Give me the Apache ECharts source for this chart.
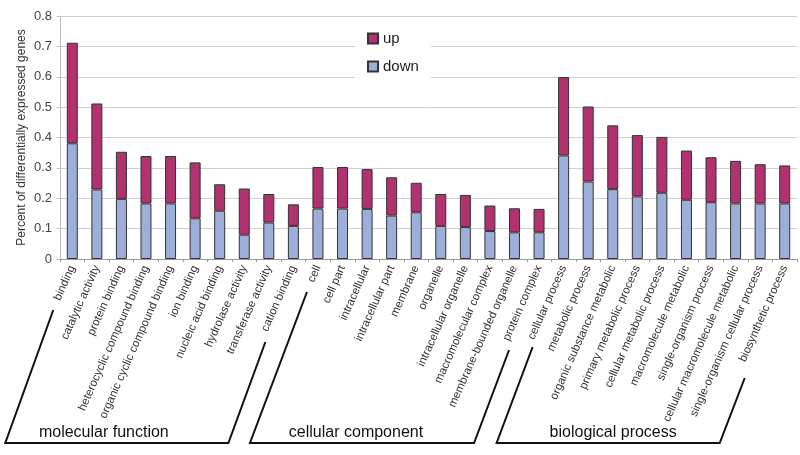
<!DOCTYPE html>
<html>
<head>
<meta charset="utf-8">
<script src="https://cdn.jsdelivr.net/npm/echarts@6/dist/echarts.min.js"></script>
<style>html,body{margin:0;padding:0;background:#fff}#c{width:800px;height:455px}</style>
</head>
<body>
<div id="c"></div>
<script>
const categories = ["binding","catalytic activity","protein binding","heterocyclic compound binding","organic cyclic compound binding","ion binding","nucleic acid binding","hydrolase activity","transferase activity","cation binding",
"cell","cell part","intracellular","intracellular part","membrane","organelle","intracellular organelle","macromolecular complex","membrane-bounded organelle","protein complex",
"cellular process","metabolic process","organic substance metabolic","primary metabolic process","cellular metabolic process","macromolecule metabolic","single-organism process","cellular macromolecule metabolic","single-organism cellular process","biosynthetic process"];
const downValues = [0.381,0.229,0.198,0.183,0.183,0.134,0.159,0.080,0.120,0.109,
0.166,0.166,0.165,0.143,0.154,0.109,0.105,0.092,0.088,0.088,
0.341,0.255,0.230,0.206,0.218,0.195,0.187,0.183,0.183,0.183];
const totalValues = [0.712,0.512,0.353,0.339,0.339,0.318,0.246,0.232,0.214,0.180,
0.303,0.303,0.296,0.269,0.251,0.214,0.211,0.176,0.167,0.165,
0.599,0.502,0.440,0.408,0.402,0.357,0.335,0.323,0.312,0.308];
const upValues = totalValues.map((t,i)=>+(t-downValues[i]).toFixed(3));
const groupNames = ["molecular function","cellular component","biological process"];
const groupRanges = [[0,9],[10,19],[20,29]];

const FONT = 'Liberation Sans, Arial, sans-serif';
const chart = echarts.init(document.getElementById('c'), null, {renderer:'canvas'});
chart.setOption({
  animation:false,
  textStyle:{fontFamily:FONT},
  grid:{left:60,right:3,top:16,bottom:196,containLabel:false},
  legend:{
    data:['up','down'], orient:'vertical', left:355, top:23, icon:'rect',
    itemWidth:10, itemHeight:10, itemGap:13, padding:[8,12,8,12],
    backgroundColor:'#fff',
    textStyle:{fontSize:15,color:'#222',fontFamily:FONT}
  },
  xAxis:{
    type:'category', data:categories,
    axisLine:{lineStyle:{color:'#999'}},
    axisTick:{show:true,length:3,lineStyle:{color:'#999'},alignWithLabel:false},
    axisLabel:{rotate:66,fontSize:11.5,color:'#333',margin:7,interval:0,fontFamily:FONT}
  },
  yAxis:{
    type:'value', min:0, max:0.8, interval:0.1,
    name:'Percent of differentially expressed genes', nameLocation:'middle', nameGap:32,
    nameMoveOverlap:false,
    nameTextStyle:{fontSize:12,color:'#333',fontFamily:FONT},
    axisLine:{show:true,lineStyle:{color:'#bbb'}},
    axisTick:{show:true,length:3,lineStyle:{color:'#bbb'}},
    axisLabel:{fontSize:13,color:'#444',margin:8,formatter:v=>v===0?'0':v.toFixed(1)},
    splitLine:{lineStyle:{color:'#d0d0d0'}}
  },
  series:[
    {name:'down',type:'bar',stack:'s',data:downValues,barWidth:11,
     itemStyle:{color:'#9eaedb',borderColor:'#333',borderWidth:1}},
    {name:'up',type:'bar',stack:'s',data:upValues,barWidth:11,
     itemStyle:{color:'#b2326f',borderColor:'#333',borderWidth:1}}
  ]
});

// group brackets, positioned relative to category pixel positions
const xs = categories.map(c=>chart.convertToPixel({xAxisIndex:0},c));
const bracketLayout = [
  {topL:[-19,310], botL:-67, botR:-65, topR:[-28,342], textShift:-13},
  {topL:[-11,292], botL:-68, botR:-65, topR:[-30,350], textShift:-6},
  {topL:[-31,347], botL:-67, botR:-65, topR:[-40,378], textShift:5}
];
const baseY = 443;
const graphics = [];
groupRanges.forEach((r,g)=>{
  const L = bracketLayout[g];
  const x0 = xs[r[0]], x1 = xs[r[1]];
  const pts = [[x0+L.topL[0],L.topL[1]],[x0+L.botL,baseY],[x1+L.botR,baseY],[x1+L.topR[0],L.topR[1]]];
  graphics.push({type:'polyline',shape:{points:pts},style:{stroke:'#111',lineWidth:2,fill:null}});
  const cx = (x0+L.botL + x1+L.botR)/2 + L.textShift;
  graphics.push({type:'text',x:cx,y:baseY-2,style:{text:groupNames[g],fontSize:16,fill:'#111',fontFamily:FONT,align:'center',verticalAlign:'bottom'}});
});
chart.setOption({graphic:graphics});
</script>
</body>
</html>
